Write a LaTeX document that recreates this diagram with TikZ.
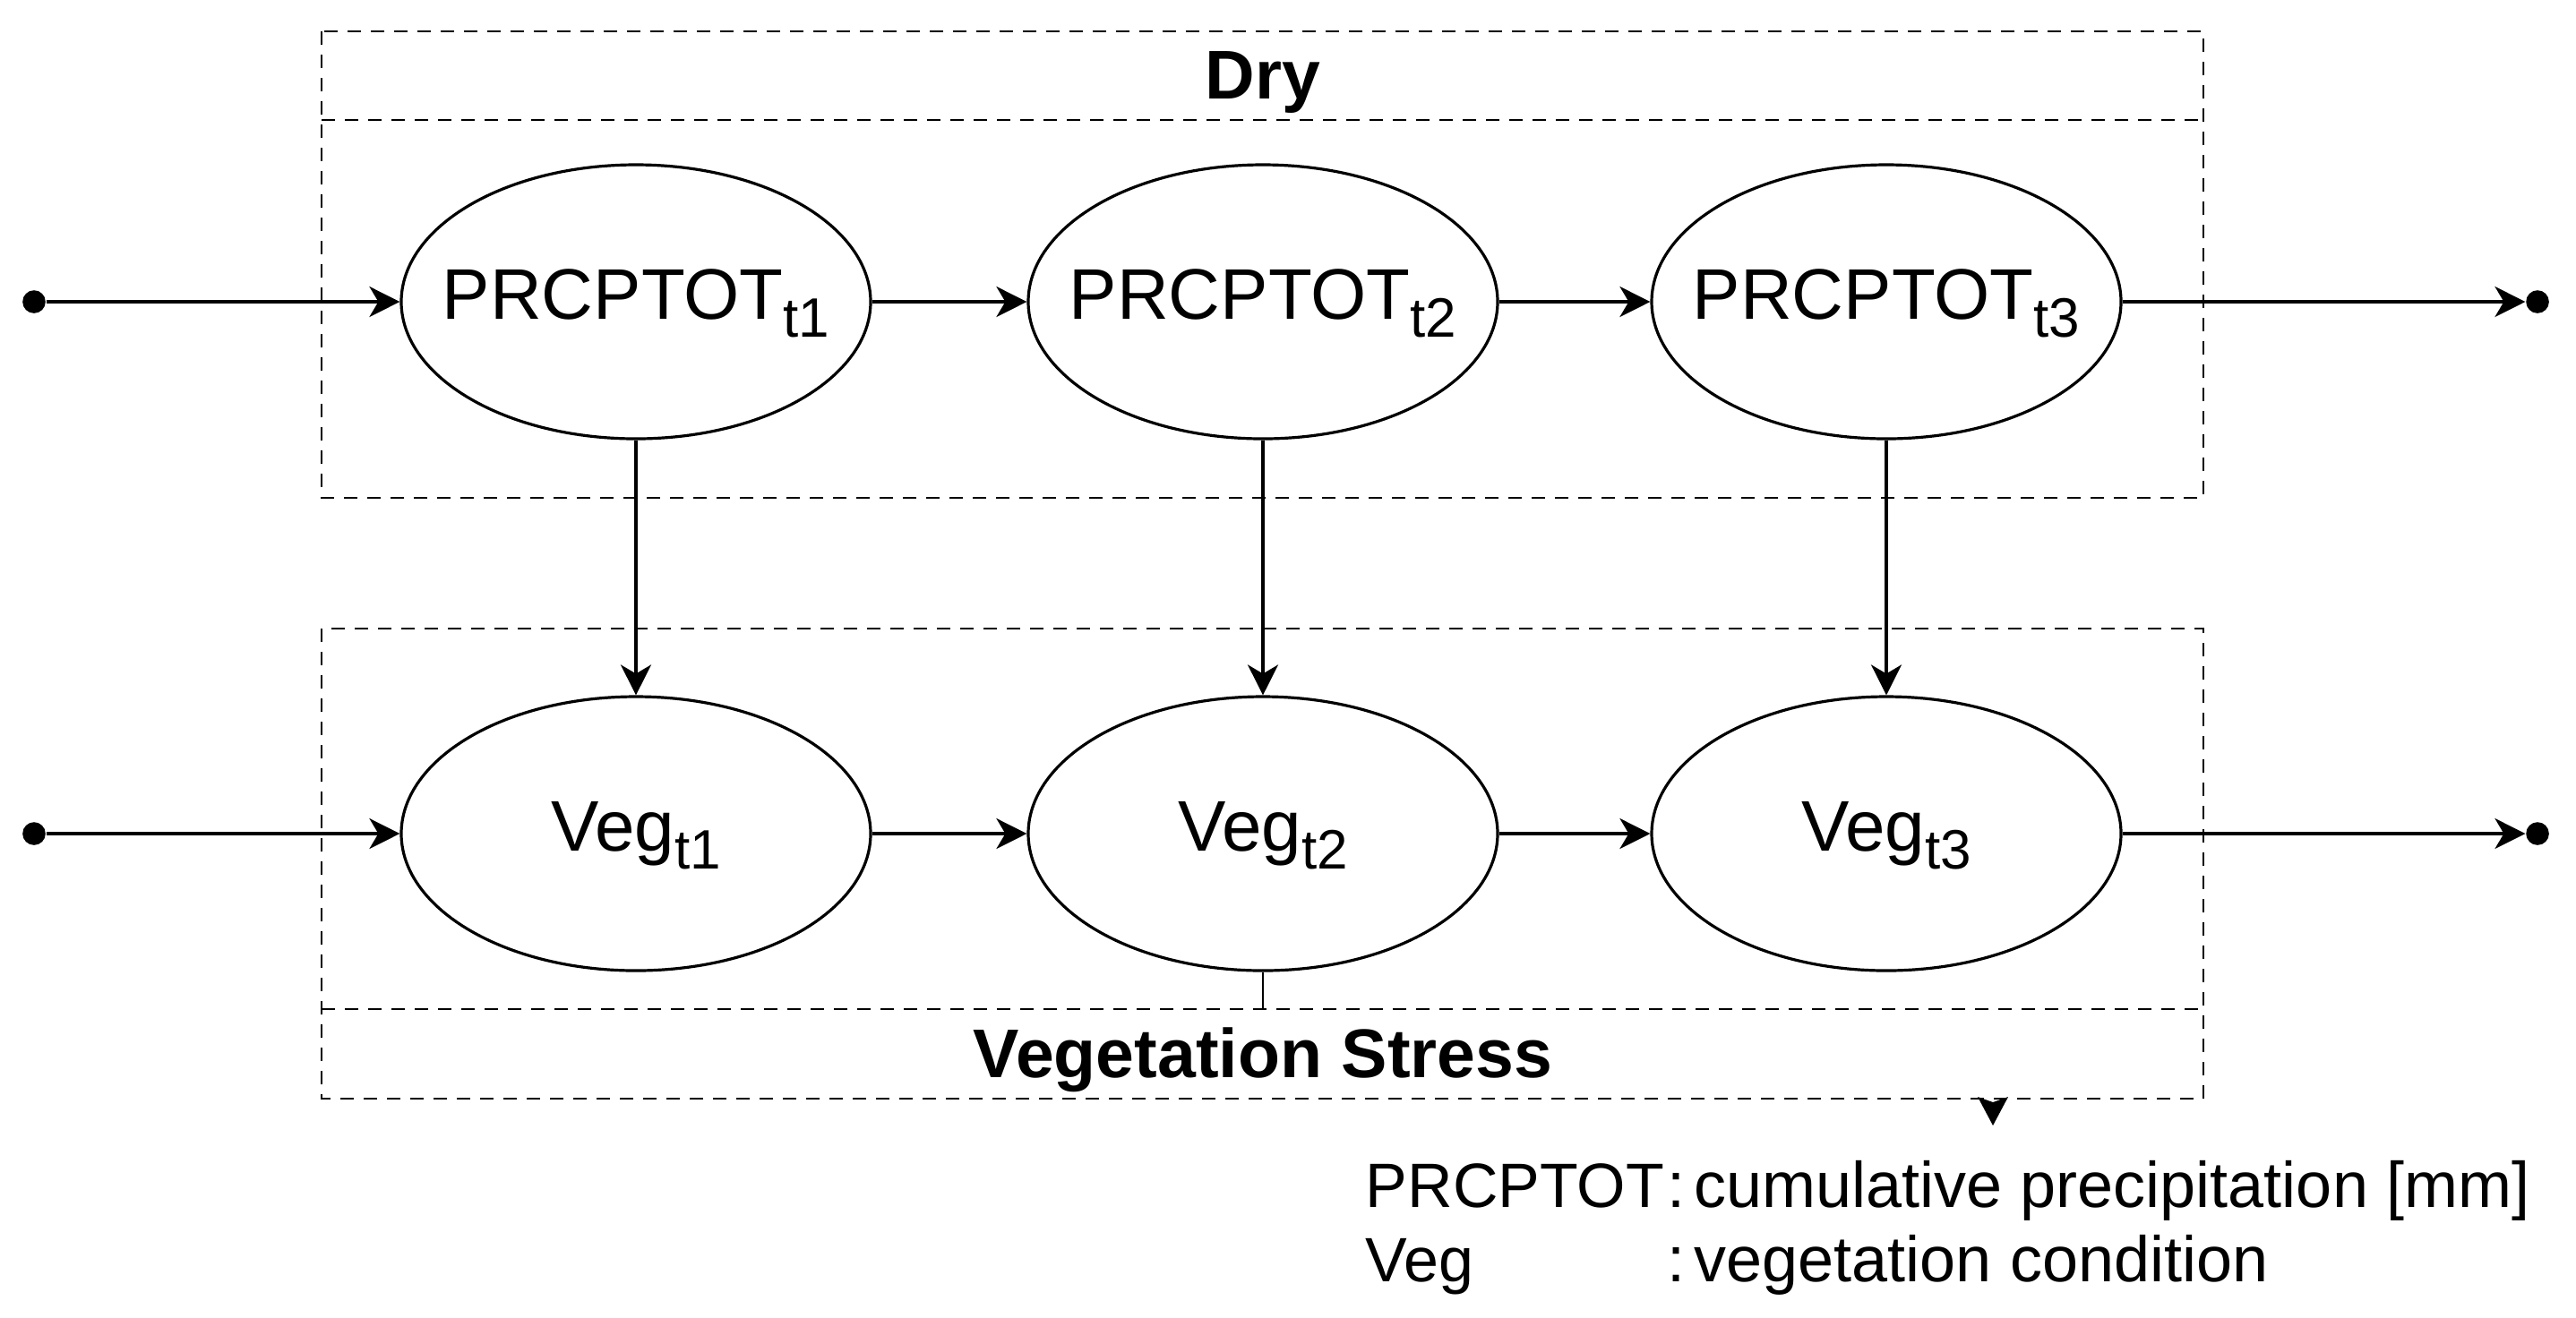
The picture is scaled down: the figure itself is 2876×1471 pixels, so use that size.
\documentclass[tikz,border=0pt]{standalone}
\usepackage{fontspec}
\setmainfont{Liberation Sans}
\usetikzlibrary{arrows.meta,shapes.geometric}
\newcommand\vsub[1]{\raisebox{-5pt}{\fontsize{15.5}{18}\selectfont #1}}
\begin{document}
\begin{tikzpicture}[x=0.25pt,y=-0.25pt,
  var/.style={ellipse,draw,line width=0.8pt,minimum width=131pt,minimum height=76.5pt,
    inner sep=0pt,text height=14pt,text depth=4.5pt,font=\fontsize{20}{24}\selectfont},
  conn/.style={line width=0.8pt,-{Stealth[length=8.5pt,width=8.5pt,inset=2.5pt]}},
  plain/.style={line width=0.6pt},
  enddot/.style={circle,fill,inner sep=0pt,minimum size=6.4pt},
  grp/.style={draw,line width=0.6pt,dash pattern=on 3.75pt off 2.75pt},
  title/.style={anchor=base,inner sep=0pt,font=\bfseries\fontsize{19.25}{23}\selectfont},
  legend/.style={anchor=base west,inner sep=0pt,font=\fontsize{17.5}{21}\selectfont},
  legdesc/.style={anchor=base west,inner sep=0pt,font=\fontsize{18}{21}\selectfont}]
\useasboundingbox (0,0) rectangle (2876,1471);
% group boxes
\draw[grp] (359,35) rectangle (2460,556);
\draw[grp] (359,134) -- (2460,134);
\draw[grp] (359,702) rectangle (2460,1227);
\draw[grp] (359,1127) -- (2460,1127);
\node[title] (dry) at (1410,110) {Dry};
\node[title] (vs) at (1410,1203) {Vegetation Stress};
% variables
\node[var] (p1) at (710,337) {\makebox[0pt]{PRCPTOT\vsub{t1}}};
\node[var] (p2) at (1410,337) {\makebox[0pt]{PRCPTOT\vsub{t2}}};
\node[var] (p3) at (2106,337) {\makebox[0pt]{PRCPTOT\vsub{t3}}};
\node[var] (v1) at (710,931) {\makebox[0pt]{Veg\vsub{t1}}};
\node[var] (v2) at (1410,931) {\makebox[0pt]{Veg\vsub{t2}}};
\node[var] (v3) at (2106,931) {\makebox[0pt]{Veg\vsub{t3}}};
% end dots
\node[enddot] (lp) at (38,337) {};
\node[enddot] (rp) at (2833,337) {};
\node[enddot] (lv) at (38,931) {};
\node[enddot] (rv) at (2833,931) {};
% connectors
\draw[conn] (lp) -- (p1);
\draw[conn] (p1) -- (p2);
\draw[conn] (p2) -- (p3);
\draw[conn] (p3) -- (rp);
\draw[conn] (lv) -- (v1);
\draw[conn] (v1) -- (v2);
\draw[conn] (v2) -- (v3);
\draw[conn] (v3) -- (rv);
\draw[conn] (p1) -- (v1);
\draw[conn] (p2) -- (v2);
\draw[conn] (p3) -- (v3);
\coordinate (d2) at (1410,1127);
\draw[plain] (v2.south) -- (d2);
\coordinate (tri) at (2225,1228);
\fill (tri) ++(-17,-3) -- ++(17,6) -- ++(17,-6) -- (2225,1257) -- cycle;
% legend
\node[legend] (l1a) at (1524,1348) {PRCPTOT};
\node[legdesc] (l1b) at (1861,1348) {:\kern-2.5pt\ cumulative precipitation [mm]};
\node[legend] (l2a) at (1524,1431) {Veg};
\node[legdesc] (l2b) at (1861,1431) {:\kern-2.5pt\ vegetation condition};
\end{tikzpicture}
\end{document}
